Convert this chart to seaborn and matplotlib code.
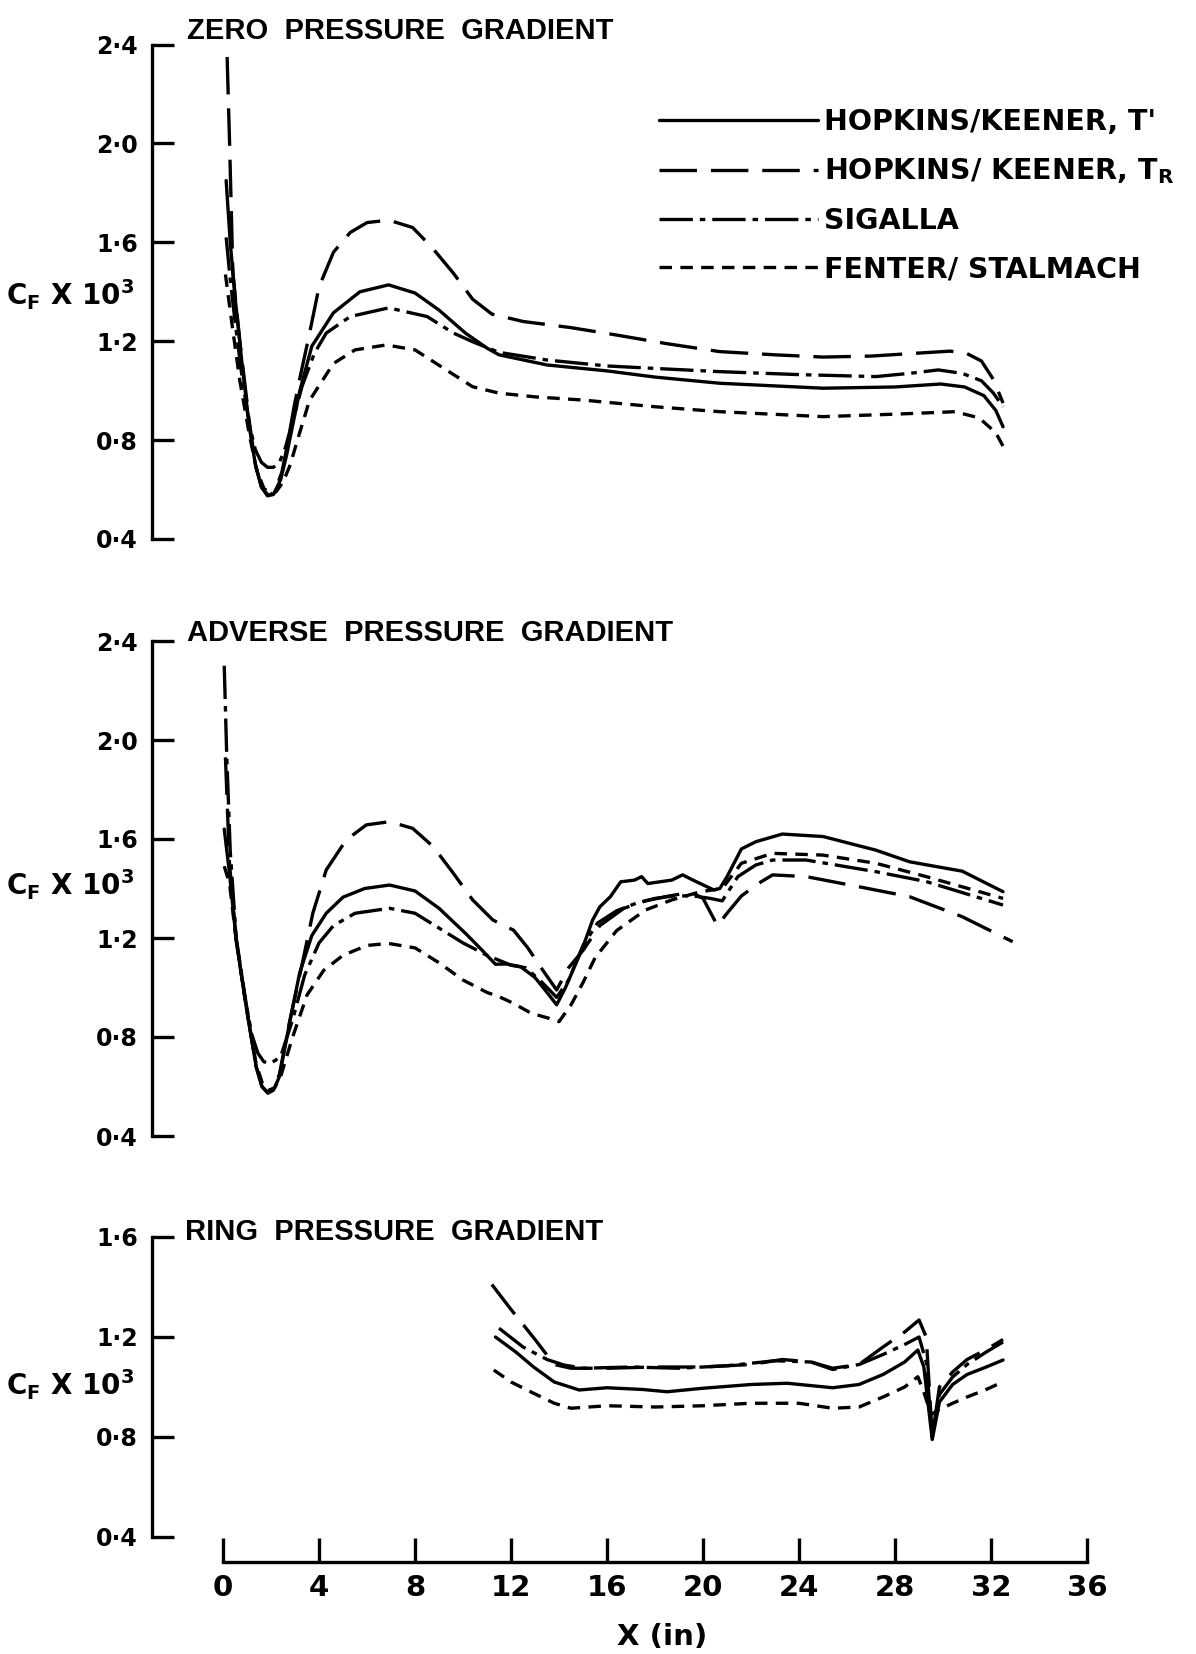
import pandas as pd
import matplotlib.pyplot as plt
import seaborn as sns
from matplotlib.lines import Line2D

# ---- data (Cf x 10^3 against x in inches) ----
methods = ['hk_t', 'hk_tr', 'sigalla', 'fenter']
method_labels = ["HOPKINS/KEENER, T'", 'HOPKINS/ KEENER, T$_\\mathrm{R}$',
                 'SIGALLA', 'FENTER/ STALMACH']

# zero pressure gradient
zero_t_x = [0.13, 0.3, 0.5, 0.8, 1.1, 1.35, 1.6, 1.85, 2.1, 2.4, 2.65, 2.9, 3.2, 3.7, 4.6, 5.7, 6.9, 8.0, 9.0,
            10.1, 11.0, 11.5, 13.5, 16.0, 18.0, 20.7, 25.0, 28.0, 29.9, 30.9, 31.7, 32.2, 32.5]
zero_t_y = [1.85, 1.6, 1.38, 1.1, 0.85, 0.7, 0.61, 0.575, 0.58, 0.64, 0.74, 0.86, 1.0, 1.18, 1.315, 1.40, 1.428,
            1.395, 1.326, 1.233, 1.172, 1.145, 1.104, 1.08, 1.055, 1.03, 1.01, 1.015, 1.027, 1.015, 0.98, 0.92, 0.854]
zero_tr_x = [0.17, 0.27, 0.41, 0.7, 1.1, 1.35, 1.6, 1.9, 2.15, 2.45, 2.7, 2.95, 3.2, 3.6, 4.0, 4.6, 5.3, 6.0, 6.9,
             7.9, 8.7, 9.6, 10.4, 11.2, 12.5, 14.5, 16.4, 18.5, 20.7, 23.0, 25.0, 27.0, 29.3, 30.3, 31.0, 31.6,
             32.1, 32.5]
zero_tr_y = [2.35, 2.01, 1.475, 1.2, 0.87, 0.7, 0.61, 0.575, 0.59, 0.67, 0.79, 0.93, 1.05, 1.23, 1.42, 1.56, 1.64,
             1.68, 1.69, 1.66, 1.58, 1.475, 1.37, 1.31, 1.28, 1.255, 1.225, 1.19, 1.158, 1.145, 1.136, 1.14, 1.154,
             1.16, 1.15, 1.12, 1.045, 0.95]
zero_sig_x = [0.13, 0.3, 0.5, 0.8, 1.1, 1.35, 1.6, 1.85, 2.1, 2.35, 2.6, 2.85, 3.3, 3.8, 4.3, 5.3, 6.9, 8.5, 9.6,
              10.4, 11.5, 13.5, 16.0, 18.0, 20.7, 24.0, 27.2, 28.6, 29.8, 30.8, 31.6, 32.1, 32.5]
zero_sig_y = [1.62, 1.45, 1.28, 1.05, 0.86, 0.76, 0.71, 0.69, 0.69, 0.71, 0.77, 0.86, 1.02, 1.15, 1.233, 1.30,
              1.335, 1.30, 1.233, 1.198, 1.155, 1.124, 1.10, 1.09, 1.077, 1.065, 1.057, 1.07, 1.084, 1.07, 1.04,
              0.99, 0.935]
zero_fs_x = [0.1, 0.4, 0.7, 1.1, 1.4, 1.7, 1.95, 2.2, 2.5, 2.8, 3.1, 3.6, 4.6, 5.5, 6.8, 8.0, 9.3, 10.4, 11.5,
             13.0, 15.0, 18.0, 20.7, 25.0, 28.0, 30.5, 31.5, 32.2, 32.65]
zero_fs_y = [1.47, 1.25, 1.04, 0.82, 0.68, 0.605, 0.585, 0.59, 0.63, 0.7, 0.8, 0.96, 1.11, 1.165, 1.185, 1.165,
             1.084, 1.016, 0.99, 0.975, 0.962, 0.935, 0.915, 0.895, 0.905, 0.915, 0.89, 0.83, 0.748]

# adverse pressure gradient
adv_t_x = [0.05, 0.27, 0.55, 0.97, 1.38, 1.62, 1.87, 2.1, 2.35, 2.77, 3.19, 3.7, 4.3, 5.0, 5.9, 6.94, 8.0, 9.0,
           10.1, 10.7, 11.35, 11.8, 12.4, 13.0, 13.5, 13.9, 14.27, 15.0, 15.4, 15.7, 16.14, 16.57, 17.15, 17.44,
           17.7, 18.7, 19.15, 19.58, 20.45, 20.7, 21.0, 21.6, 22.2, 23.3, 25.0, 27.2, 28.6, 30.8, 32.5]
adv_t_y = [1.64, 1.46, 1.19, 0.92, 0.68, 0.6, 0.573, 0.585, 0.64, 0.856, 1.058, 1.21, 1.30, 1.365, 1.40, 1.414,
           1.39, 1.32, 1.219, 1.16, 1.094, 1.095, 1.084, 1.04, 0.98, 0.93, 1.0, 1.165, 1.273, 1.326, 1.367, 1.427,
           1.434, 1.448, 1.42, 1.434, 1.455, 1.434, 1.394, 1.40, 1.448, 1.56, 1.589, 1.62, 1.61, 1.555, 1.508, 1.47,
           1.387]
adv_tr_x = [0.1, 0.27, 0.55, 0.97, 1.38, 1.62, 1.87, 2.1, 2.35, 2.77, 3.33, 3.74, 4.3, 5.13, 5.97, 6.94, 7.9, 8.76,
            9.6, 10.4, 11.24, 11.7, 12.1, 12.7, 13.25, 13.9, 14.4, 15.0, 15.7, 16.7, 17.6, 18.6, 19.5, 20.0, 20.6,
            21.0, 21.6, 22.3, 22.9, 24.3, 26.5, 28.6, 30.8, 32.9]
adv_tr_y = [1.93, 1.5, 1.19, 0.92, 0.68, 0.6, 0.575, 0.59, 0.65, 0.86, 1.11, 1.30, 1.475, 1.596, 1.657, 1.67,
            1.643, 1.569, 1.461, 1.354, 1.273, 1.25, 1.232, 1.16, 1.08, 0.99, 1.08, 1.15, 1.25, 1.32, 1.35, 1.37,
            1.385, 1.36, 1.25, 1.30, 1.37, 1.42, 1.455, 1.448, 1.407, 1.367, 1.286, 1.185]
adv_sig_x = [0.05, 0.15, 0.3, 0.55, 0.97, 1.2, 1.45, 1.7, 1.94, 2.18, 2.42, 2.9, 3.4, 4.0, 4.6, 5.5, 6.94, 8.0, 9.0,
             10.0, 11.0, 11.5, 12.0, 12.6, 13.2, 13.9, 14.4, 15.0, 15.6, 16.4, 17.2, 18.0, 18.8, 19.6, 20.3, 20.8,
             21.45, 22.2, 22.9, 24.3, 27.2, 29.3, 32.5]
adv_sig_y = [2.30, 1.95, 1.55, 1.2, 0.93, 0.81, 0.735, 0.70, 0.694, 0.705, 0.727, 0.87, 1.05, 1.18, 1.25, 1.30,
             1.32, 1.30, 1.24, 1.18, 1.13, 1.11, 1.09, 1.08, 1.03, 0.96, 1.03, 1.17, 1.26, 1.31, 1.34, 1.36, 1.37,
             1.37, 1.36, 1.35, 1.448, 1.495, 1.515, 1.515, 1.468, 1.428, 1.333]
adv_fs_x = [0.05, 0.27, 0.55, 0.97, 1.38, 1.65, 1.9, 2.15, 2.4, 2.9, 3.5, 4.2, 5.0, 6.0, 6.9, 8.0, 9.0, 10.0, 11.0,
            11.5, 12.1, 12.84, 13.6, 14.0, 14.5, 15.0, 15.5, 16.4, 17.6, 18.7, 19.9, 20.8, 21.6, 22.9, 25.0, 27.2,
            29.3, 32.5]
adv_fs_y = [1.49, 1.42, 1.19, 0.92, 0.69, 0.61, 0.585, 0.595, 0.64, 0.80, 0.97, 1.07, 1.13, 1.17, 1.178, 1.16,
            1.10, 1.03, 0.98, 0.963, 0.936, 0.896, 0.875, 0.862, 0.93, 1.02, 1.12, 1.23, 1.313, 1.354, 1.387, 1.40,
            1.502, 1.542, 1.535, 1.502, 1.448, 1.36]

# ring pressure gradient
ring_t_x = [11.35, 12.2, 12.94, 13.8, 14.84, 16.0, 17.5, 18.5, 20.0, 22.0, 23.5, 25.4, 26.5, 27.5, 28.4, 28.95,
            29.2, 29.55, 29.85, 30.4, 31.0, 31.8, 32.5]
ring_t_y = [1.2, 1.14, 1.08, 1.02, 0.988, 0.997, 0.99, 0.981, 0.995, 1.01, 1.015, 0.997, 1.01, 1.05, 1.10, 1.148,
            1.08, 0.79, 0.94, 1.01, 1.05, 1.08, 1.108]
ring_tr_x = [11.2, 12.0, 13.0, 13.8, 14.5, 16.0, 18.0, 20.0, 22.0, 23.3, 24.5, 25.4, 26.5, 27.5, 28.4, 29.0, 29.3,
             29.55, 29.85, 30.4, 31.0, 31.8, 32.5]
ring_tr_y = [1.41, 1.31, 1.19, 1.09, 1.075, 1.075, 1.08, 1.08, 1.09, 1.11, 1.10, 1.075, 1.09, 1.16, 1.22, 1.268,
             1.2, 0.80, 1.00, 1.06, 1.11, 1.15, 1.19]
ring_sig_x = [11.5, 12.5, 13.5, 14.2, 15.0, 17.0, 19.0, 21.0, 23.0, 24.5, 25.4, 26.5, 27.5, 28.4, 29.0, 29.3,
              29.55, 29.85, 30.4, 31.0, 31.8, 32.5]
ring_sig_y = [1.235, 1.16, 1.11, 1.088, 1.075, 1.08, 1.075, 1.085, 1.105, 1.1, 1.07, 1.09, 1.13, 1.17, 1.20, 1.1,
              0.80, 0.97, 1.04, 1.09, 1.14, 1.18]
ring_fs_x = [11.28, 12.0, 12.94, 13.8, 14.5, 16.0, 18.0, 20.0, 22.0, 24.0, 25.4, 26.5, 27.5, 28.4, 28.95, 29.2,
             29.5, 29.85, 30.4, 31.0, 31.8, 32.5]
ring_fs_y = [1.068, 1.02, 0.975, 0.935, 0.915, 0.925, 0.92, 0.925, 0.935, 0.935, 0.915, 0.92, 0.96, 1.0, 1.041,
             0.98, 0.89, 0.91, 0.935, 0.96, 0.99, 1.021]

titles = ['ZERO  PRESSURE  GRADIENT', 'ADVERSE  PRESSURE  GRADIENT', 'RING  PRESSURE  GRADIENT']
big_yticks = [0.4, 0.8, 1.2, 1.6, 2.0, 2.4]
big_ylabels = ['0·4', '0·8', '1·2', '1·6', '2·0', '2·4']
ring_yticks = [0.4, 0.8, 1.2, 1.6]
ring_ylabels = ['0·4', '0·8', '1·2', '1·6']
xticks = [0, 4, 8, 12, 16, 20, 24, 28, 32, 36]
xlabels = ['0', '4', '8', '12', '16', '20', '24', '28', '32', '36']


def frame(curves):
    parts = [pd.DataFrame({'x': x, 'cf': y, 'method': m}) for m, (x, y) in zip(methods, curves)]
    return pd.concat(parts, ignore_index=True)


zero_df = frame([(zero_t_x, zero_t_y), (zero_tr_x, zero_tr_y), (zero_sig_x, zero_sig_y), (zero_fs_x, zero_fs_y)])
adv_df = frame([(adv_t_x, adv_t_y), (adv_tr_x, adv_tr_y), (adv_sig_x, adv_sig_y), (adv_fs_x, adv_fs_y)])
ring_df = frame([(ring_t_x, ring_t_y), (ring_tr_x, ring_tr_y), (ring_sig_x, ring_sig_y), (ring_fs_x, ring_fs_y)])

# ---- style ----
sns.set_style('white')
plt.rcParams['font.family'] = ['Liberation Sans', 'DejaVu Sans']
plt.rcParams['font.weight'] = 'bold'
plt.rcParams['text.color'] = 'black'
plt.rcParams['xtick.color'] = 'black'
plt.rcParams['ytick.color'] = 'black'
plt.rcParams['mathtext.fontset'] = 'custom'
plt.rcParams['mathtext.rm'] = 'DejaVu Sans:bold'
plt.rcParams['lines.scale_dashes'] = False

WIDE = 'DejaVu Sans'
dash_map = {'hk_t': '', 'hk_tr': (27, 10), 'sigalla': (24, 5, 4, 5), 'fenter': (9, 6)}
LW = 2.4
W, H = 1196, 1654

fig = plt.figure(figsize=(W / 100, H / 100), dpi=100)
fig.patch.set_facecolor('white')

x0, x1 = -2.96, 37.0
ax_left = 152 / W
ax_width = (x1 - x0) * 24 / W
ax1 = fig.add_axes([ax_left, 1 - 539 / H, ax_width, 494.4 / H])
ax2 = fig.add_axes([ax_left, 1 - 1136 / H, ax_width, 495 / H])
ax3 = fig.add_axes([ax_left, 1 - 1562 / H, ax_width, 325 / H])

for ax, df in [(ax1, zero_df), (ax2, adv_df), (ax3, ring_df)]:
    sns.lineplot(data=df, x='x', y='cf', style='method', style_order=methods, dashes=dash_map,
                 color='black', linewidth=LW, estimator=None, sort=False, legend=False, ax=ax)
    ax.set_xlim(x0, x1)
    ax.set_xlabel('')
    ax.set_ylabel('')
    for side in ['top', 'right']:
        ax.spines[side].set_visible(False)
    ax.spines['left'].set_linewidth(2.4)
    ax.spines['left'].set_color('black')
    ax.tick_params(axis='y', left=True, direction='in', length=16, width=2.4, pad=10, labelsize=17,
                   colors='black')
    ax.set_facecolor('white')

for ax in [ax1, ax2]:
    ax.set_ylim(0.4, 2.4)
    ax.set_yticks(big_yticks, big_ylabels)
    ax.spines['left'].set_bounds(0.4, 2.4)
    ax.spines['bottom'].set_visible(False)
    ax.set_xticks([])

ax3.set_ylim(0.3, 1.6)
ax3.set_yticks(ring_yticks, ring_ylabels)
ax3.spines['left'].set_bounds(0.4, 1.6)
ax3.spines['bottom'].set_bounds(0, 36)
ax3.spines['bottom'].set_linewidth(2.4)
ax3.spines['bottom'].set_color('black')
ax3.set_xticks(xticks, xlabels)
ax3.tick_params(axis='x', bottom=True, direction='in', length=17, width=2.4, pad=9, labelsize=21,
                colors='black')

for ax in [ax1, ax2, ax3]:
    for lab in ax.get_yticklabels() + ax.get_xticklabels():
        lab.set_family(WIDE)
        lab.set_fontweight('bold')

# titles and axis labels
for txt, (px, py) in zip(titles, [(187, 39), (187, 641), (185, 1240)]):
    fig.text(px / W, 1 - py / H, txt, fontsize=21, fontweight='bold', va='baseline', ha='left')

for py in [295, 885, 1385]:
    fig.text(70 / W, 1 - py / H, 'C$_\\mathrm{F}$ X 10$^\\mathrm{3}$', fontsize=20, fontweight='bold',
             family=WIDE, va='center', ha='center')

fig.text(662 / W, 1 - 1637 / H, 'X (in)', fontsize=21, fontweight='bold', family=WIDE, va='center', ha='center')

# legend
handles = [Line2D([], [], color='black', linewidth=LW,
                  linestyle='-' if dash_map[m] == '' else (0, dash_map[m])) for m in methods]
leg = ax1.legend(handles, method_labels, loc='upper left', bbox_to_anchor=(659 / W, 1 - 108 / H),
                 bbox_transform=fig.transFigure, frameon=False, handlelength=5.6,
                 handletextpad=0.18, labelspacing=0.72, borderpad=0, borderaxespad=0,
                 prop={'family': WIDE, 'weight': 'bold', 'size': 20.5})

fig.savefig('out.png', dpi=100, facecolor='white')
